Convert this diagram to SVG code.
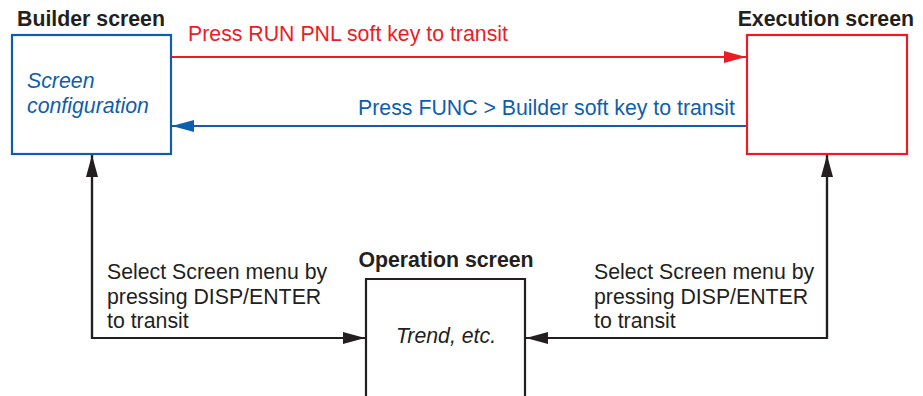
<svg xmlns="http://www.w3.org/2000/svg" width="923" height="396" viewBox="0 0 923 396">
  <style>
    text { font-family: "Liberation Sans", Arial, sans-serif; font-size: 21.3px; }
    .title { font-weight: bold; fill: #231f20; }
    .note { fill: #231f20; }
    .red { fill: #ed1c24; }
    .blue { fill: #0f5ead; }
    .ital { font-style: italic; }
    .box { fill: #ffffff; stroke-width: 2.2; }
    .conn { fill: none; stroke-width: 2.2; }
  </style>
  <defs>
    <marker id="arrowRed" viewBox="0 0 22 12" refX="22" refY="6" markerWidth="22" markerHeight="12" markerUnits="userSpaceOnUse" orient="auto">
      <path d="M0,0 L22,6 L0,12 Z" fill="#ed1c24"/>
    </marker>
    <marker id="arrowBlue" viewBox="0 0 22 12" refX="22" refY="6" markerWidth="22" markerHeight="12" markerUnits="userSpaceOnUse" orient="auto">
      <path d="M0,0 L22,6 L0,12 Z" fill="#0f5ead"/>
    </marker>
    <marker id="arrowBlack" viewBox="0 0 22 12" refX="22" refY="6" markerWidth="22" markerHeight="12" markerUnits="userSpaceOnUse" orient="auto">
      <path d="M0,0 L22,6 L0,12 Z" fill="#231f20"/>
    </marker>
  </defs>

  <g id="builder-screen">
    <rect class="box" x="12" y="35" width="159" height="119" stroke="#0f5ead"/>
    <text class="title" x="17" y="26">Builder screen</text>
    <text class="blue ital" x="27" y="88">Screen</text>
    <text class="blue ital" x="27" y="113">configuration</text>
  </g>

  <g id="execution-screen">
    <rect class="box" x="747" y="35" width="160" height="119" stroke="#ed1c24"/>
    <text class="title" x="914" y="26" text-anchor="end">Execution screen</text>
  </g>

  <g id="operation-screen">
    <path class="box" d="M366,400 V279 H525 V400" stroke="#231f20"/>
    <text class="title" x="446" y="267" text-anchor="middle">Operation screen</text>
    <text class="note ital" x="446" y="343" text-anchor="middle">Trend, etc.</text>
  </g>

  <g id="connectors">
    <line class="conn" x1="172" y1="57" x2="746" y2="57" stroke="#ed1c24" marker-end="url(#arrowRed)"/>
    <line class="conn" x1="746" y1="126" x2="172" y2="126" stroke="#0f5ead" marker-end="url(#arrowBlue)"/>
    <path class="conn" d="M92,155 V338 H365" stroke="#231f20" marker-end="url(#arrowBlack)"/>
    <path class="conn" d="M92,338 V155" stroke="#231f20" marker-end="url(#arrowBlack)"/>
    <path class="conn" d="M827,155 V338 H526" stroke="#231f20" marker-end="url(#arrowBlack)"/>
    <path class="conn" d="M827,338 V155" stroke="#231f20" marker-end="url(#arrowBlack)"/>
  </g>

  <g id="labels">
    <text class="red" x="188" y="41">Press RUN PNL soft key to transit</text>
    <text class="blue" x="735" y="115" text-anchor="end">Press FUNC &gt; Builder soft key to transit</text>
    <text class="note" x="107" y="279">Select Screen menu by</text>
    <text class="note" x="107" y="304">pressing DISP/ENTER</text>
    <text class="note" x="107" y="328">to transit</text>
    <text class="note" x="594" y="279">Select Screen menu by</text>
    <text class="note" x="594" y="304">pressing DISP/ENTER</text>
    <text class="note" x="594" y="328">to transit</text>
  </g>
</svg>
